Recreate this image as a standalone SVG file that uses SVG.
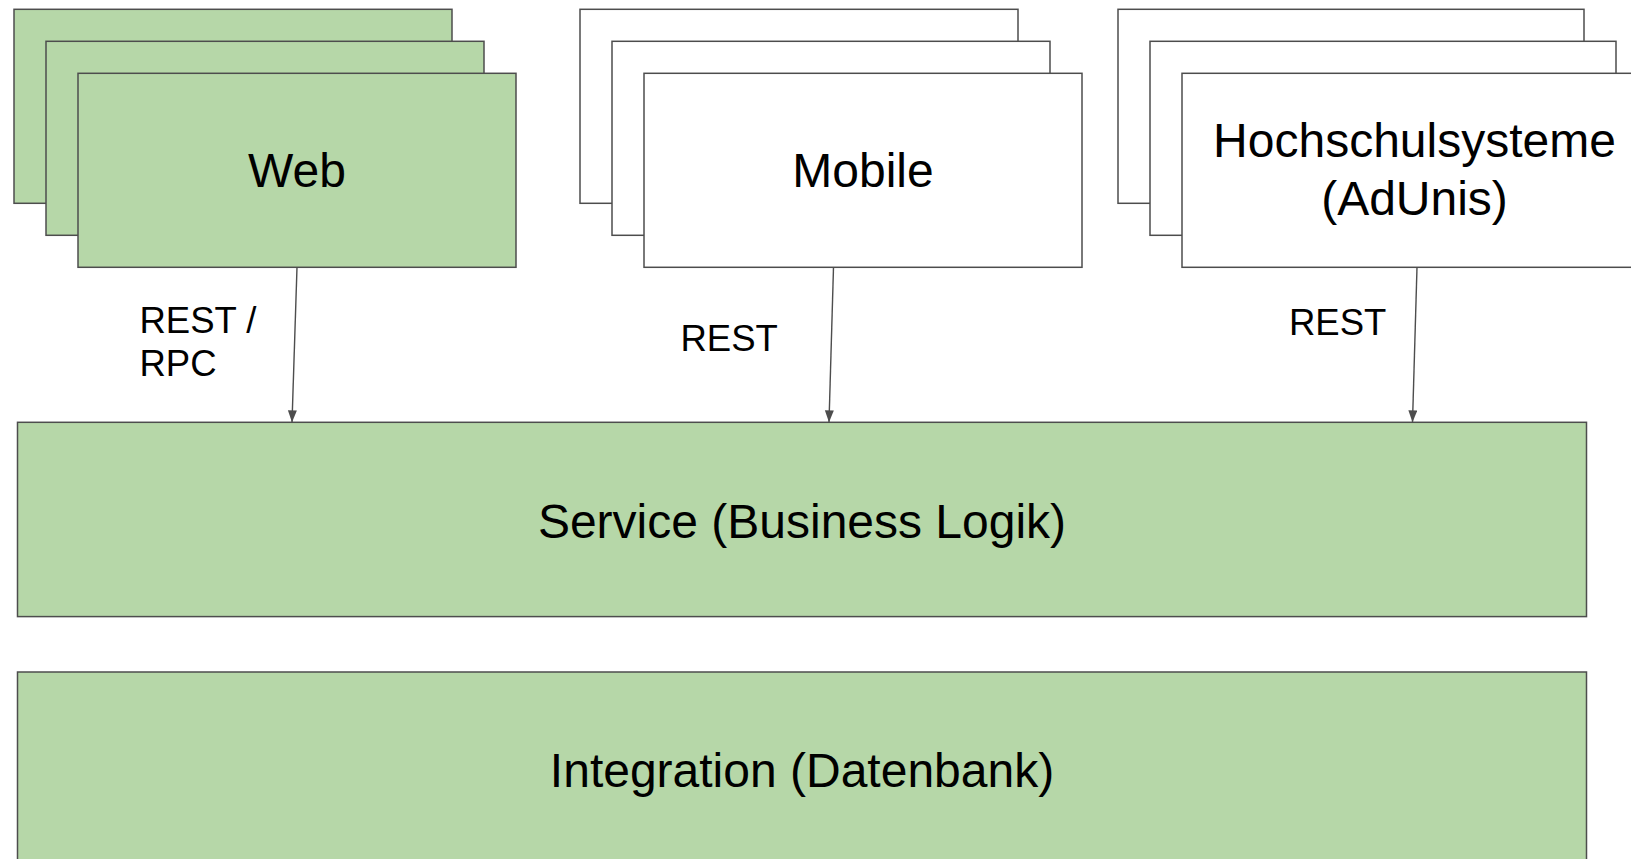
<svg xmlns="http://www.w3.org/2000/svg" width="1631" height="859" viewBox="0 0 1631 859">
  <style>
    .box { stroke: #4d4d4d; stroke-width: 1.5; }
    .green { fill: #b6d7a8; }
    .white { fill: #ffffff; }
    .big { font-family: "Liberation Sans", Arial, sans-serif; font-size: 48px; fill: #000000; text-anchor: middle; }
    .lbl { font-family: "Liberation Sans", Arial, sans-serif; font-size: 36.5px; fill: #000000; }
    .conn { stroke: #4d4d4d; stroke-width: 1.4; fill: none; marker-end: url(#arrow); }
  </style>
  <defs>
    <marker id="arrow" markerUnits="userSpaceOnUse" markerWidth="12" markerHeight="10" refX="12" refY="4.5" orient="auto">
      <path d="M0,0 L12,4.5 L0,9 z" fill="#4d4d4d"/>
    </marker>
  </defs>
  <rect width="1631" height="859" fill="#ffffff"/>

  <g id="web">
    <rect class="box green" x="14" y="9.3" width="438" height="194"/>
    <rect class="box green" x="46" y="41.3" width="438" height="194"/>
    <rect class="box green" x="78" y="73.3" width="438" height="194"/>
    <text class="big" x="297" y="187">Web</text>
  </g>

  <g id="mobile">
    <rect class="box white" x="580" y="9.3" width="438" height="194"/>
    <rect class="box white" x="612" y="41.3" width="438" height="194"/>
    <rect class="box white" x="644" y="73.3" width="438" height="194"/>
    <text class="big" x="863" y="187">Mobile</text>
  </g>

  <g id="hochschulsysteme">
    <rect class="box white" x="1118" y="9.3" width="466" height="194"/>
    <rect class="box white" x="1150" y="41.3" width="466" height="194"/>
    <rect class="box white" x="1182" y="73.3" width="466" height="194"/>
    <text class="big" x="1414.5" y="157">Hochschulsysteme</text>
    <text class="big" x="1414.5" y="215">(AdUnis)</text>
  </g>

  <g id="service">
    <rect class="box green" x="17.5" y="422.3" width="1569" height="194.3"/>
    <text class="big" x="802" y="538">Service (Business Logik)</text>
  </g>

  <g id="integration">
    <rect class="box green" x="17.5" y="672" width="1569" height="200"/>
    <text class="big" x="802" y="787">Integration (Datenbank)</text>
  </g>

  <g id="connectors">
    <line class="conn" x1="297" y1="267.3" x2="292" y2="422.3"/>
    <line class="conn" x1="833.5" y1="267.3" x2="829" y2="422.3"/>
    <line class="conn" x1="1417" y1="267.3" x2="1412.5" y2="422.3"/>
    <text class="lbl" x="139.5" y="332.5">REST /</text>
    <text class="lbl" x="139.5" y="375.5">RPC</text>
    <text class="lbl" x="680.5" y="351">REST</text>
    <text class="lbl" x="1289" y="335">REST</text>
  </g>
</svg>
